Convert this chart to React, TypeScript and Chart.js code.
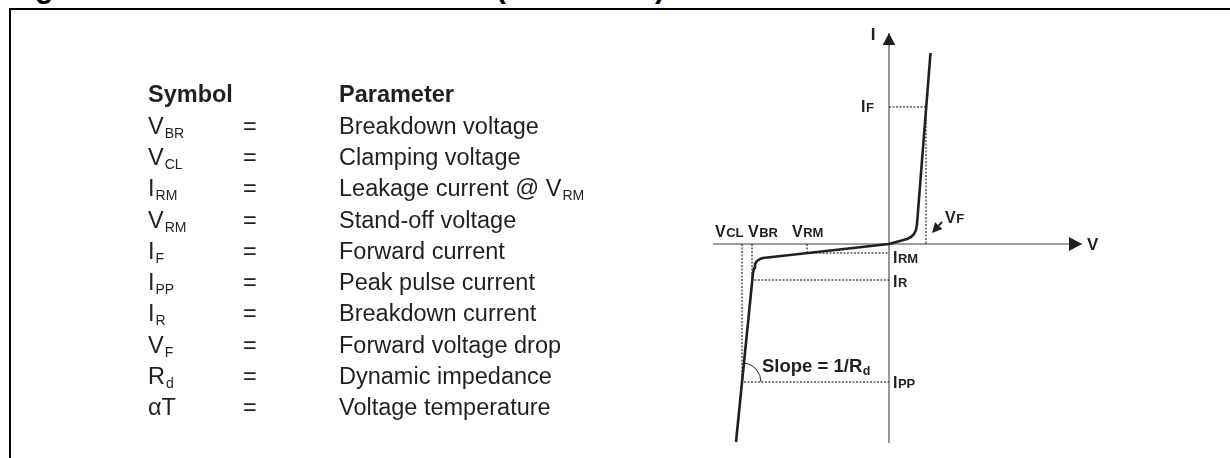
import React, { useEffect, useRef } from "react";
import { Chart, registerables } from "chart.js";

Chart.register(...registerables);

// ---------- Diagram data (V, I in arbitrary schematic units) ----------
const curveV = [-15.3, -13.6, -13.5, -13.4, -13.2, -12.9, -12.6, 0, 1.8, 2.2, 2.5, 2.7, 2.8, 4.15];
const curveI = [-19.8, -2.9, -2.4, -2.0, -1.7, -1.5, -1.4, 0, 0.5, 0.7, 1.0, 1.4, 2.0, 19.1];

const V_CL = -14.7;
const V_BR = -13.7;
const V_RM = -8.2;
const V_F = 3.7;
const I_F = 13.7;
const I_RM = -0.9;
const I_R = -3.6;
const I_PP = -13.8;

const axisV = [-17.6, 19.3];
const axisI = [-19.9, 21.1];
const vfArrowV = [5.3, 4.3];
const vfArrowI = [2.2, 1.1];

// ---------- Table data ----------
const headers = ["Symbol", "Parameter"];
const symbolMain = ["V", "V", "I", "V", "I", "I", "I", "V", "R", "\u03b1T"];
const symbolSub = ["BR", "CL", "RM", "RM", "F", "PP", "R", "F", "d", ""];
const paramText = [
  "Breakdown voltage",
  "Clamping voltage",
  "Leakage current @ V",
  "Stand-off voltage",
  "Forward current",
  "Peak pulse current",
  "Breakdown current",
  "Forward voltage drop",
  "Dynamic impedance",
  "Voltage temperature",
];
const paramSub = ["", "", "RM", "", "", "", "", "", "", ""];
const titleText = "Figure 1. Electrical characteristics (definitions)";

const INK = "#231f20";
const FONT = '"Liberation Sans", Arial, Helvetica, sans-serif';

function pts(vs: number[], is: number[]) {
  return vs.map((v, k) => ({ x: v, y: is[k] }));
}

function subLabel(
  ctx: CanvasRenderingContext2D,
  main: string,
  sub: string,
  x: number,
  y: number,
  size: number,
  subSize: number,
  drop: number,
  align: "left" | "right" = "left"
) {
  ctx.font = `bold ${size}px ${FONT}`;
  const wm = ctx.measureText(main).width;
  ctx.font = `bold ${subSize}px ${FONT}`;
  const ws = sub ? ctx.measureText(sub).width : 0;
  const x0 = align === "right" ? x - wm - ws - 0.5 : x;
  ctx.font = `bold ${size}px ${FONT}`;
  ctx.fillText(main, x0, y);
  if (sub) {
    ctx.font = `bold ${subSize}px ${FONT}`;
    ctx.fillText(sub, x0 + wm + 0.5, y + drop);
  }
}

const overlay = {
  id: "overlay",
  afterDatasetsDraw(chart: any) {
    const { ctx, scales } = chart;
    const X = (v: number) => scales.x.getPixelForValue(v);
    const Y = (v: number) => scales.y.getPixelForValue(v);
    const ox = X(0);
    const oy = Y(0);
    ctx.save();
    ctx.fillStyle = INK;
    ctx.strokeStyle = INK;
    const tri = (a: number, b: number, c: number, d: number, e: number, f: number) => {
      ctx.beginPath();
      ctx.moveTo(a, b);
      ctx.lineTo(c, d);
      ctx.lineTo(e, f);
      ctx.closePath();
      ctx.fill();
    };
    // axis arrow heads
    const iTip = Y(axisI[1]);
    tri(ox, iTip, ox - 6.3, iTip + 12, ox + 6.3, iTip + 12);
    const vTip = X(axisV[1]);
    tri(vTip, oy, vTip - 13, oy - 7, vTip - 13, oy + 7);

    // VF pointer arrow
    const ax0 = X(vfArrowV[0]);
    const ay0 = Y(vfArrowI[0]);
    const ax1 = X(vfArrowV[1]);
    const ay1 = Y(vfArrowI[1]);
    const ang = Math.atan2(ay1 - ay0, ax1 - ax0);
    const hl = 10;
    const hw = 5;
    const bx = ax1 - hl * Math.cos(ang);
    const by = ay1 - hl * Math.sin(ang);
    ctx.lineWidth = 2;
    ctx.beginPath();
    ctx.moveTo(ax0, ay0);
    ctx.lineTo(bx, by);
    ctx.stroke();
    tri(ax1, ay1, bx + hw * Math.sin(ang), by - hw * Math.cos(ang), bx - hw * Math.sin(ang), by + hw * Math.cos(ang));

    // slope arc
    const cx = X(V_CL);
    const cy = Y(I_PP);
    const upAng = Math.atan2(Y(curveI[1]) - cy, X(curveV[1]) - cx);
    ctx.lineWidth = 1;
    ctx.beginPath();
    ctx.arc(cx, cy, 19, upAng, 0);
    ctx.stroke();

    // labels
    ctx.textAlign = "left";
    ctx.textBaseline = "alphabetic";
    subLabel(ctx, "I", "", ox - 13, iTip + 7, 17, 13, 0, "right");
    subLabel(ctx, "V", "", vTip + 5, oy + 6, 17, 13, 0, "left");
    subLabel(ctx, "I", "F", ox - 15, Y(I_F) + 5, 16, 13, 0, "right");
    subLabel(ctx, "V", "F", ax0 + 3, ay0 + 1, 16, 13, 0, "left");
    subLabel(ctx, "V", "CL", X(V_CL) - 27, oy - 7, 16, 13, 0, "left");
    subLabel(ctx, "V", "BR", X(V_BR) - 4, oy - 7, 16, 13, 0, "left");
    subLabel(ctx, "V", "RM", X(V_RM) - 15, oy - 7, 16, 13, 0, "left");
    subLabel(ctx, "I", "RM", ox + 4, Y(I_RM) + 10, 16, 13, 0, "left");
    subLabel(ctx, "I", "R", ox + 4, Y(I_R) + 7, 16, 13, 0, "left");
    subLabel(ctx, "I", "PP", ox + 4, Y(I_PP) + 6, 16, 13, 0, "left");
    subLabel(ctx, "Slope = 1/R", "d", cx + 20, cy - 10, 18.5, 12.5, 3, "left");
    ctx.restore();
  },
};

function Diagram() {
  const ref = useRef<HTMLCanvasElement | null>(null);
  useEffect(() => {
    if (!ref.current) return;
    const dotted = {
      showLine: true,
      borderColor: "#000",
      borderWidth: 1,
      borderDash: [2, 1.5],
      pointRadius: 0,
      tension: 0,
      fill: false,
    };
    const chart = new Chart(ref.current, {
      type: "scatter",
      data: {
        datasets: [
          {
            data: pts(curveV, curveI),
            showLine: true,
            borderColor: INK,
            borderWidth: 2.6,
            pointRadius: 0,
            tension: 0,
            fill: false,
            borderJoinStyle: "round",
          } as any,
          { ...dotted, data: pts([0, V_F, V_F], [I_F, I_F, 0]) },
          { ...dotted, data: pts([V_RM, V_RM, 0], [0, I_RM, I_RM]) },
          { ...dotted, data: pts([V_BR, V_BR, 0], [0, I_R, I_R]) },
          { ...dotted, data: pts([V_CL, V_CL, 0], [0, I_PP, I_PP]) },
          {
            data: pts([0, 0], axisI),
            showLine: true,
            borderColor: "#7d7d7d",
            borderWidth: 1.6,
            pointRadius: 0,
          },
          {
            data: pts(axisV, [0, 0]),
            showLine: true,
            borderColor: "#7d7d7d",
            borderWidth: 1.6,
            pointRadius: 0,
          },
        ],
      },
      options: {
        animation: false,
        responsive: false,
        events: [],
        layout: { padding: 0 },
        plugins: { legend: { display: false }, tooltip: { enabled: false } },
        scales: {
          x: { type: "linear", min: -88.9, max: 34.1, display: false },
          y: { type: "linear", min: -21.4, max: 24.4, display: false },
        },
      },
      plugins: [overlay],
    });
    return () => chart.destroy();
  }, []);
  return (
    <canvas
      ref={ref}
      width={1230}
      height={458}
      style={{ position: "absolute", left: 0, top: 0, width: 1230, height: 458 }}
    />
  );
}

const ROW_H = 31.3;
const ROW0 = 95;
const FS = 23.5;

function Row({ i, children }: { i: number; children: React.ReactNode }) {
  return (
    <div
      style={{
        position: "absolute",
        left: 0,
        top: ROW0 + ROW_H * i - ROW_H / 2,
        height: ROW_H,
        lineHeight: `${ROW_H}px`,
        width: 700,
        whiteSpace: "nowrap",
      }}
    >
      {children}
    </div>
  );
}

function Sub({ t }: { t: string }) {
  if (!t) return null;
  return (
    <span style={{ fontSize: 14, position: "relative", top: 4, marginLeft: 1 }}>{t}</span>
  );
}

export default function App() {
  return (
    <div
      style={{
        position: "fixed",
        left: 0,
        top: 0,
        width: 1230,
        height: 458,
        overflow: "hidden",
        background: "#fff",
        fontFamily: FONT,
        color: INK,
      }}
    >
      <div
        style={{
          position: "absolute",
          left: 9,
          top: -27,
          fontSize: 29.5,
          lineHeight: "29.5px",
          fontWeight: "bold",
          color: "#000",
          whiteSpace: "nowrap",
        }}
      >
        {titleText}
      </div>
      <div
        style={{
          position: "absolute",
          left: 9,
          top: 8,
          width: 1400,
          height: 600,
          borderLeft: "2px solid #000",
          borderTop: "2px solid #000",
          background: "transparent",
        }}
      />
      <Diagram />
      <div style={{ position: "absolute", left: 0, top: 0, fontSize: FS }}>
        <Row i={0}>
          <span style={{ position: "absolute", left: 148, fontWeight: "bold" }}>{headers[0]}</span>
          <span style={{ position: "absolute", left: 339, fontWeight: "bold" }}>{headers[1]}</span>
        </Row>
        {symbolMain.map((s, k) => (
          <Row i={k + 1} key={k}>
            <span style={{ position: "absolute", left: 148 }}>
              {s}
              <Sub t={symbolSub[k]} />
            </span>
            <span style={{ position: "absolute", left: 243 }}>=</span>
            <span style={{ position: "absolute", left: 339 }}>
              {paramText[k]}
              <Sub t={paramSub[k]} />
            </span>
          </Row>
        ))}
      </div>
    </div>
  );
}
